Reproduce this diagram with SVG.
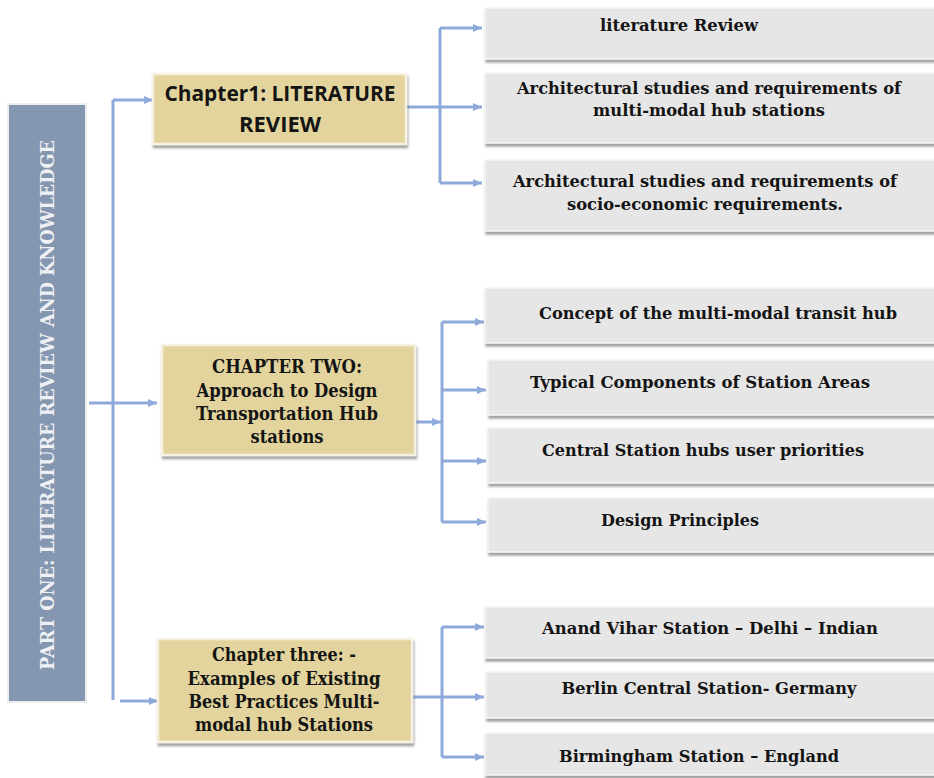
<svg xmlns="http://www.w3.org/2000/svg" width="934" height="778" viewBox="0 0 934 778">
<defs>
<filter id="sh" x="-5%" y="-10%" width="115%" height="140%">
<feDropShadow dx="1" dy="3" stdDeviation="1.2" flood-color="#555" flood-opacity="0.55"/>
</filter>
<marker id="ah" markerUnits="userSpaceOnUse" markerWidth="10" markerHeight="10" refX="9" refY="5" orient="auto">
<path d="M0,1 L9,5 L0,9 Z" fill="#8EAADB"/>
</marker>
<style>
.conn{stroke:#8EAADB;stroke-width:3;fill:none}
.arr{stroke:#8EAADB;stroke-width:3;fill:none;marker-end:url(#ah)}
.item{fill:#E6E6E6;stroke:#F4F4F4;stroke-width:1.5;filter:url(#sh)}
.chap{fill:#E3D49E;stroke:#F6F1E2;stroke-width:2.5;filter:url(#sh)}
.it{font-family:"DejaVu Serif","Liberation Serif",serif;font-weight:bold;font-size:17.5px;fill:#141414;text-anchor:middle}
.ct{font-family:"DejaVu Serif","Liberation Serif",serif;font-weight:bold;font-size:18px;fill:#141414;text-anchor:middle}
.c1{font-family:"Open Sans","Noto Sans","Liberation Sans",sans-serif;font-weight:bold;font-size:21px;fill:#141414;text-anchor:middle}
.vt{font-family:"DejaVu Serif","Liberation Serif",serif;font-weight:bold;font-size:18px;fill:#EEF0F4;text-anchor:middle}
</style>
</defs>

<g id="part-one">
<rect x="8" y="104" width="78" height="598" fill="#8496B0" stroke="#EDEDED" stroke-width="2"/>
<text class="vt" transform="translate(54,405) rotate(-90)" x="0" y="0" textLength="530" lengthAdjust="spacingAndGlyphs">PART ONE: LITERATURE REVIEW AND KNOWLEDGE</text>
</g>

<g id="connectors">
<path class="conn" d="M113,700 V100"/>
<path class="arr" d="M113,100 H153"/>
<path class="arr" d="M89,403 H157"/>
<path class="arr" d="M120,701 H158"/>

<path class="arr" d="M406,107 H482"/>
<path class="conn" d="M440,28 V183"/>
<path class="arr" d="M440,28 H482"/>
<path class="arr" d="M440,183 H482"/>

<path class="arr" d="M415,422 H441"/>
<path class="conn" d="M442,322 V522"/>
<path class="arr" d="M442,322 H484"/>
<path class="arr" d="M442,390 H486"/>
<path class="arr" d="M442,461 H486"/>
<path class="arr" d="M442,522 H486"/>

<path class="arr" d="M412,697 H484"/>
<path class="conn" d="M442,627 V757"/>
<path class="arr" d="M442,627 H484"/>
<path class="arr" d="M442,757 H484"/>
</g>

<g id="chapter1">
<rect class="chap" x="153" y="74" width="253" height="70"/>
<text class="c1" x="280" y="101" textLength="231" lengthAdjust="spacingAndGlyphs">Chapter1: LITERATURE</text>
<text class="c1" x="280" y="132" textLength="82" lengthAdjust="spacingAndGlyphs">REVIEW</text>
</g>

<g id="chapter2">
<rect class="chap" x="162" y="345" width="253" height="110"/>
<text class="ct" x="287" y="373" textLength="150" lengthAdjust="spacingAndGlyphs">CHAPTER TWO:</text>
<text class="ct" x="287" y="397" textLength="181" lengthAdjust="spacingAndGlyphs">Approach to Design</text>
<text class="ct" x="287" y="420" textLength="182" lengthAdjust="spacingAndGlyphs">Transportation Hub</text>
<text class="ct" x="287" y="443" textLength="73" lengthAdjust="spacingAndGlyphs">stations</text>
</g>

<g id="chapter3">
<rect class="chap" x="158" y="639" width="254" height="103"/>
<text class="ct" x="284" y="661" textLength="144" lengthAdjust="spacingAndGlyphs">Chapter three: -</text>
<text class="ct" x="284" y="685" textLength="193" lengthAdjust="spacingAndGlyphs">Examples of Existing</text>
<text class="ct" x="284" y="708" textLength="191" lengthAdjust="spacingAndGlyphs">Best Practices Multi-</text>
<text class="ct" x="284" y="731" textLength="178" lengthAdjust="spacingAndGlyphs">modal hub Stations</text>
</g>

<g id="item-literature-review">
<rect class="item" x="485" y="8" width="460" height="51"/>
<text class="it" x="679" y="31" textLength="158" lengthAdjust="spacingAndGlyphs">literature Review</text>
</g>
<g id="item-arch-hub">
<rect class="item" x="485" y="73" width="460" height="70"/>
<text class="it" x="709" y="94" textLength="384" lengthAdjust="spacingAndGlyphs">Architectural studies and requirements of</text>
<text class="it" x="709" y="116" textLength="232" lengthAdjust="spacingAndGlyphs">multi-modal hub stations</text>
</g>
<g id="item-arch-socio">
<rect class="item" x="485" y="160" width="460" height="71"/>
<text class="it" x="705" y="187" textLength="384" lengthAdjust="spacingAndGlyphs">Architectural studies and requirements of</text>
<text class="it" x="705" y="210" textLength="276" lengthAdjust="spacingAndGlyphs">socio-economic requirements.</text>
</g>

<g id="item-concept">
<rect class="item" x="485" y="288" width="460" height="55"/>
<text class="it" x="718" y="319" textLength="358" lengthAdjust="spacingAndGlyphs">Concept of the multi-modal transit hub</text>
</g>
<g id="item-components">
<rect class="item" x="488" y="360" width="460" height="55"/>
<text class="it" x="700" y="388" textLength="340" lengthAdjust="spacingAndGlyphs">Typical Components of Station Areas</text>
</g>
<g id="item-priorities">
<rect class="item" x="488" y="428" width="460" height="55"/>
<text class="it" x="703" y="456" textLength="322" lengthAdjust="spacingAndGlyphs">Central Station hubs user priorities</text>
</g>
<g id="item-principles">
<rect class="item" x="488" y="498" width="460" height="54"/>
<text class="it" x="680" y="526" textLength="158" lengthAdjust="spacingAndGlyphs">Design Principles</text>
</g>

<g id="item-anand">
<rect class="item" x="485" y="607" width="460" height="51"/>
<text class="it" x="710" y="634" textLength="336" lengthAdjust="spacingAndGlyphs">Anand Vihar Station – Delhi – Indian</text>
</g>
<g id="item-berlin">
<rect class="item" x="486" y="672" width="460" height="46"/>
<text class="it" x="709" y="694" textLength="295" lengthAdjust="spacingAndGlyphs">Berlin Central Station- Germany</text>
</g>
<g id="item-birmingham">
<rect class="item" x="485" y="733" width="460" height="42"/>
<text class="it" x="699" y="762" textLength="280" lengthAdjust="spacingAndGlyphs">Birmingham Station – England</text>
</g>
</svg>
